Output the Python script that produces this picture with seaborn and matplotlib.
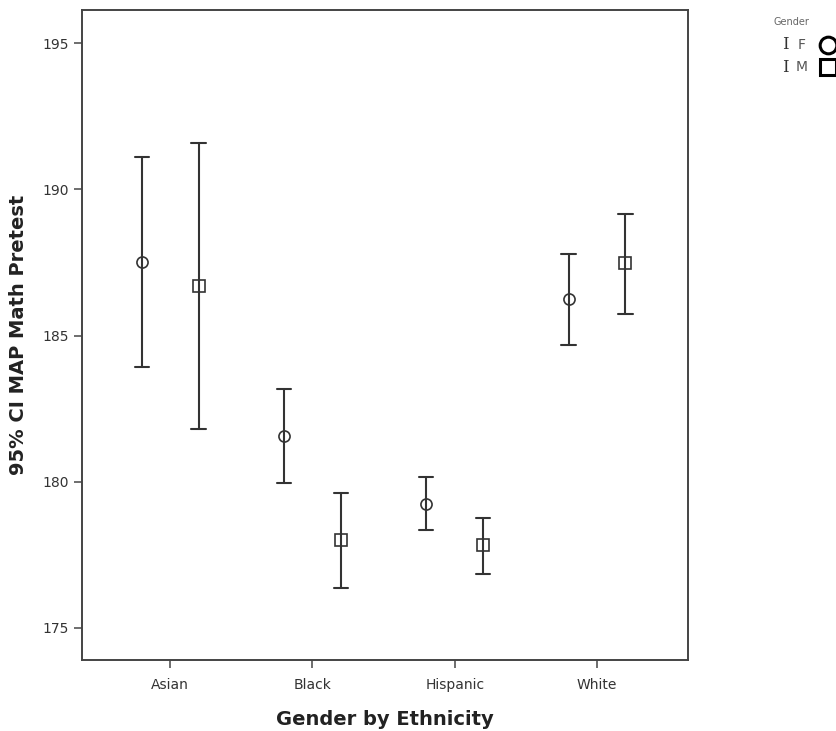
import matplotlib
matplotlib.use("Agg")
import matplotlib.pyplot as plt
from matplotlib.lines import Line2D
import numpy as np
import pandas as pd
import seaborn as sns

# Group means with their 95% confidence limits
ethnicity = ["Asian", "Black", "Hispanic", "White"]
genders = ["F", "M"]
mean_f = [187.52, 181.57, 179.25, 186.25]
low_f = [183.93, 179.97, 178.36, 184.68]
high_f = [191.10, 183.18, 180.17, 187.79]
mean_m = [186.70, 178.02, 177.82, 187.48]
low_m = [181.81, 176.38, 176.86, 185.74]
high_m = [191.58, 179.63, 178.77, 189.16]
y_ticks = [175, 180, 185, 190, 195]

rows = []
for g, means, lows, highs in [("F", mean_f, low_f, high_f), ("M", mean_m, low_m, high_m)]:
    for eth, m, lo, hi in zip(ethnicity, means, lows, highs):
        for v in (lo, m, hi):
            rows.append({"Ethnicity": eth, "Gender": g, "Score": v})
df = pd.DataFrame(rows)

sns.set_theme(style="white")
plt.rcParams["font.family"] = ["DejaVu Sans"]

fig = plt.figure(figsize=(8.36, 7.31), dpi=100)
ax = fig.add_axes([0.098, 0.097, 0.725, 0.889])

ink = "#333333"
sns.pointplot(
    data=df, x="Ethnicity", y="Score", hue="Gender",
    order=ethnicity, hue_order=genders,
    estimator="median", errorbar=lambda v: (v.min(), v.max()),
    dodge=0.4, linestyle="none", markers=["o", "s"],
    palette=[ink, ink], capsize=0.1, err_kws={"linewidth": 1.5},
    markersize=8, markerfacecolor="none", markeredgewidth=1.2,
    legend=False, ax=ax,
)
for line in ax.lines:
    line.set_markerfacecolor("none")

ax.set_xlim(-0.62, 3.64)
ax.set_ylim(173.9, 196.13)
ax.set_yticks(y_ticks)
ax.tick_params(axis="both", which="both", length=6, width=1.2, color="#555555",
               labelsize=10, labelcolor="#333333", direction="out",
               left=True, bottom=True)
ax.tick_params(axis="x", pad=7)
for s in ax.spines.values():
    s.set_color("#444444")
    s.set_linewidth(1.4)

ax.set_xlabel("Gender by Ethnicity", fontsize=14, fontweight="bold", color="#222222", labelpad=13)
ax.set_ylabel("95% CI MAP Math Pretest", fontsize=14, fontweight="bold", color="#222222", labelpad=10)

# Legend drawn beside the plot: error-bar glyph, label, marker
fig.text(0.925, 0.970, "Gender", fontsize=7, color="#666666", ha="left", va="center")
for yy, lab, mk in [(0.939, "F", "o"), (0.908, "M", "s")]:
    fig.text(0.940, yy, "I", fontsize=12, color="#333333", ha="center", va="center", family="DejaVu Serif")
    fig.text(0.959, yy, lab, fontsize=10, color="#555555", ha="center", va="center")
    fig.add_artist(Line2D([0.991], [yy], marker=mk, markersize=12, markerfacecolor="white",
                          markeredgecolor="black", markeredgewidth=2.2, transform=fig.transFigure,
                          linestyle="none"))

fig.savefig("out.png", dpi=100, facecolor="white")
